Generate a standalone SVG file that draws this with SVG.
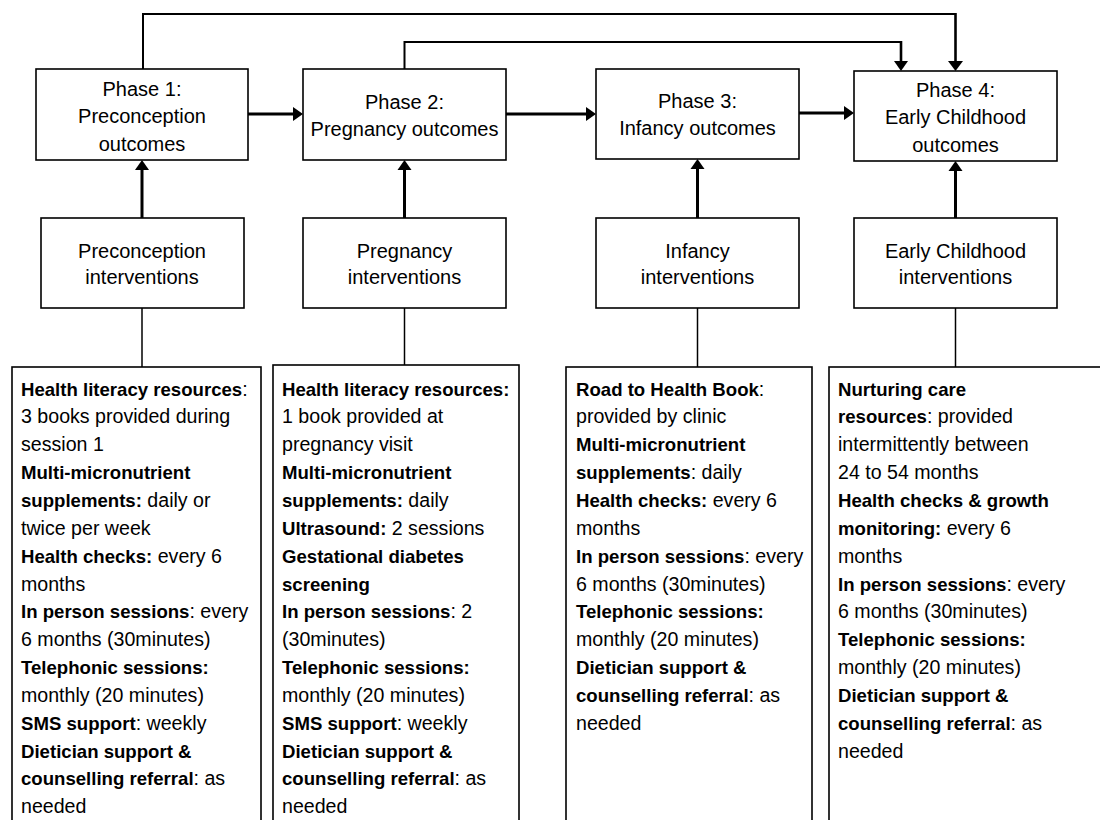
<svg xmlns="http://www.w3.org/2000/svg" width="1100" height="820" viewBox="0 0 1100 820">
<style>
.box{fill:#fff;stroke:#000;stroke-width:1.6}
.t{font-family:"Liberation Sans",Arial,sans-serif;font-size:20px;fill:#000;text-anchor:middle}
.d{font-family:"Liberation Sans",Arial,sans-serif;font-size:19.6px;fill:#000}
.b{font-weight:bold;font-size:18.6px}
.ln{fill:none;stroke:#000;stroke-width:2}
.dr{fill:none;stroke:#000;stroke-width:2.6}
.th{fill:none;stroke:#000;stroke-width:3}
.thin{fill:none;stroke:#000;stroke-width:1.5}
.ah{fill:#000}
</style>
<rect width="1100" height="820" fill="#fff"/>
<g id="connectors">
<polyline class="ln" points="143,69 143,14 955.5,14"/>
<line class="dr" x1="955.5" y1="13" x2="955.5" y2="62"/>
<polygon class="ah" points="948,61 963,61 955.5,71"/>
<polyline class="ln" points="404.5,69 404.5,42 901,42"/>
<line class="dr" x1="901" y1="41" x2="901" y2="62"/>
<polygon class="ah" points="894,61 908,61 901,71"/>
<line class="th" x1="248" y1="114" x2="294" y2="114"/>
<polygon class="ah" points="293,107 303,114 293,121"/>
<line class="th" x1="506" y1="114" x2="587" y2="114"/>
<polygon class="ah" points="586,107 596,114 586,121"/>
<line class="th" x1="799" y1="113" x2="845" y2="113"/>
<polygon class="ah" points="844,106 854,113 844,120"/>
<line class="th" x1="142" y1="218" x2="142" y2="169"/>
<polygon class="ah" points="135,170 149,170 142,160"/>
<line class="th" x1="404.5" y1="218" x2="404.5" y2="169"/>
<polygon class="ah" points="397.5,170 411.5,170 404.5,160"/>
<line class="th" x1="697.5" y1="218" x2="697.5" y2="168"/>
<polygon class="ah" points="690.5,169 704.5,169 697.5,159"/>
<line class="th" x1="955.5" y1="218" x2="955.5" y2="170"/>
<polygon class="ah" points="948.5,171 962.5,171 955.5,161"/>
<line class="thin" x1="142" y1="308" x2="142" y2="367"/>
<line class="thin" x1="404.5" y1="308" x2="404.5" y2="365"/>
<line class="thin" x1="697.5" y1="308" x2="697.5" y2="367"/>
<line class="thin" x1="955.5" y1="308" x2="955.5" y2="367"/>
</g>
<g id="phase1">
<rect class="box" x="36" y="69" width="212" height="91"/>
<text class="t" x="142" y="96">Phase 1:</text>
<text class="t" x="142" y="123">Preconception</text>
<text class="t" x="142" y="151">outcomes</text>
</g>
<g id="phase2">
<rect class="box" x="303" y="69" width="203" height="91"/>
<text class="t" x="404.5" y="109">Phase 2:</text>
<text class="t" x="404.5" y="136">Pregnancy outcomes</text>
</g>
<g id="phase3">
<rect class="box" x="596" y="69" width="203" height="90"/>
<text class="t" x="697.5" y="108">Phase 3:</text>
<text class="t" x="697.5" y="135">Infancy outcomes</text>
</g>
<g id="phase4">
<rect class="box" x="854" y="71" width="203" height="90"/>
<text class="t" x="955.5" y="97">Phase 4:</text>
<text class="t" x="955.5" y="124">Early Childhood</text>
<text class="t" x="955.5" y="152">outcomes</text>
</g>
<g id="int1">
<rect class="box" x="41" y="218" width="203" height="90"/>
<text class="t" x="142" y="258">Preconception</text>
<text class="t" x="142" y="284">interventions</text>
</g>
<g id="int2">
<rect class="box" x="303" y="218" width="203" height="90"/>
<text class="t" x="404.5" y="258">Pregnancy</text>
<text class="t" x="404.5" y="284">interventions</text>
</g>
<g id="int3">
<rect class="box" x="596" y="218" width="203" height="90"/>
<text class="t" x="697.5" y="258">Infancy</text>
<text class="t" x="697.5" y="284">interventions</text>
</g>
<g id="int4">
<rect class="box" x="854" y="218" width="203" height="90"/>
<text class="t" x="955.5" y="258">Early Childhood</text>
<text class="t" x="955.5" y="284">interventions</text>
</g>
<g id="detail1">
<rect class="box" x="12" y="367" width="249" height="470"/>
<text class="d" x="21" y="395.5"><tspan class="b">Health literacy resources</tspan>:</text>
<text class="d" x="21" y="423.4">3 books provided during</text>
<text class="d" x="21" y="451.2">session 1</text>
<text class="d" x="21" y="479.1"><tspan class="b">Multi-micronutrient</tspan></text>
<text class="d" x="21" y="506.9"><tspan class="b">supplements:</tspan> daily or</text>
<text class="d" x="21" y="534.8">twice per week</text>
<text class="d" x="21" y="562.6"><tspan class="b">Health checks:</tspan> every 6</text>
<text class="d" x="21" y="590.5">months</text>
<text class="d" x="21" y="618.3"><tspan class="b">In person sessions</tspan>: every</text>
<text class="d" x="21" y="646.2">6 months (30minutes)</text>
<text class="d" x="21" y="674"><tspan class="b">Telephonic sessions:</tspan></text>
<text class="d" x="21" y="701.9">monthly (20 minutes)</text>
<text class="d" x="21" y="729.7"><tspan class="b">SMS support</tspan>: weekly</text>
<text class="d" x="21" y="757.6"><tspan class="b">Dietician support &amp;</tspan></text>
<text class="d" x="21" y="785.4"><tspan class="b">counselling referral</tspan>: as</text>
<text class="d" x="21" y="813.3">needed</text>
</g>
<g id="detail2">
<rect class="box" x="273" y="365" width="246" height="472"/>
<text class="d" x="282" y="395.5"><tspan class="b">Health literacy resources:</tspan></text>
<text class="d" x="282" y="423.4">1 book provided at</text>
<text class="d" x="282" y="451.2">pregnancy visit</text>
<text class="d" x="282" y="479.1"><tspan class="b">Multi-micronutrient</tspan></text>
<text class="d" x="282" y="506.9"><tspan class="b">supplements:</tspan> daily</text>
<text class="d" x="282" y="534.8"><tspan class="b">Ultrasound:</tspan> 2 sessions</text>
<text class="d" x="282" y="562.6"><tspan class="b">Gestational diabetes</tspan></text>
<text class="d" x="282" y="590.5"><tspan class="b">screening</tspan></text>
<text class="d" x="282" y="618.3"><tspan class="b">In person sessions</tspan>: 2</text>
<text class="d" x="282" y="646.2">(30minutes)</text>
<text class="d" x="282" y="674"><tspan class="b">Telephonic sessions:</tspan></text>
<text class="d" x="282" y="701.9">monthly (20 minutes)</text>
<text class="d" x="282" y="729.7"><tspan class="b">SMS support</tspan>: weekly</text>
<text class="d" x="282" y="757.6"><tspan class="b">Dietician support &amp;</tspan></text>
<text class="d" x="282" y="785.4"><tspan class="b">counselling referral</tspan>: as</text>
<text class="d" x="282" y="813.3">needed</text>
</g>
<g id="detail3">
<rect class="box" x="566" y="367" width="246" height="470"/>
<text class="d" x="576" y="395.5"><tspan class="b">Road to Health Book</tspan>:</text>
<text class="d" x="576" y="423.4">provided by clinic</text>
<text class="d" x="576" y="451.2"><tspan class="b">Multi-micronutrient</tspan></text>
<text class="d" x="576" y="479.1"><tspan class="b">supplements</tspan>: daily</text>
<text class="d" x="576" y="506.9"><tspan class="b">Health checks:</tspan> every 6</text>
<text class="d" x="576" y="534.8">months</text>
<text class="d" x="576" y="562.6"><tspan class="b">In person sessions</tspan>: every</text>
<text class="d" x="576" y="590.5">6 months (30minutes)</text>
<text class="d" x="576" y="618.3"><tspan class="b">Telephonic sessions:</tspan></text>
<text class="d" x="576" y="646.2">monthly (20 minutes)</text>
<text class="d" x="576" y="674"><tspan class="b">Dietician support &amp;</tspan></text>
<text class="d" x="576" y="701.9"><tspan class="b">counselling referral</tspan>: as</text>
<text class="d" x="576" y="729.7">needed</text>
</g>
<g id="detail4">
<rect class="box" x="829" y="367" width="290" height="470"/>
<text class="d" x="838" y="395.5"><tspan class="b">Nurturing care</tspan></text>
<text class="d" x="838" y="423.4"><tspan class="b">resources</tspan>: provided</text>
<text class="d" x="838" y="451.2">intermittently between</text>
<text class="d" x="838" y="479.1">24 to 54 months</text>
<text class="d" x="838" y="506.9"><tspan class="b">Health checks &amp; growth</tspan></text>
<text class="d" x="838" y="534.8"><tspan class="b">monitoring:</tspan> every 6</text>
<text class="d" x="838" y="562.6">months</text>
<text class="d" x="838" y="590.5"><tspan class="b">In person sessions</tspan>: every</text>
<text class="d" x="838" y="618.3">6 months (30minutes)</text>
<text class="d" x="838" y="646.2"><tspan class="b">Telephonic sessions:</tspan></text>
<text class="d" x="838" y="674">monthly (20 minutes)</text>
<text class="d" x="838" y="701.9"><tspan class="b">Dietician support &amp;</tspan></text>
<text class="d" x="838" y="729.7"><tspan class="b">counselling referral</tspan>: as</text>
<text class="d" x="838" y="757.6">needed</text>
</g>
</svg>
